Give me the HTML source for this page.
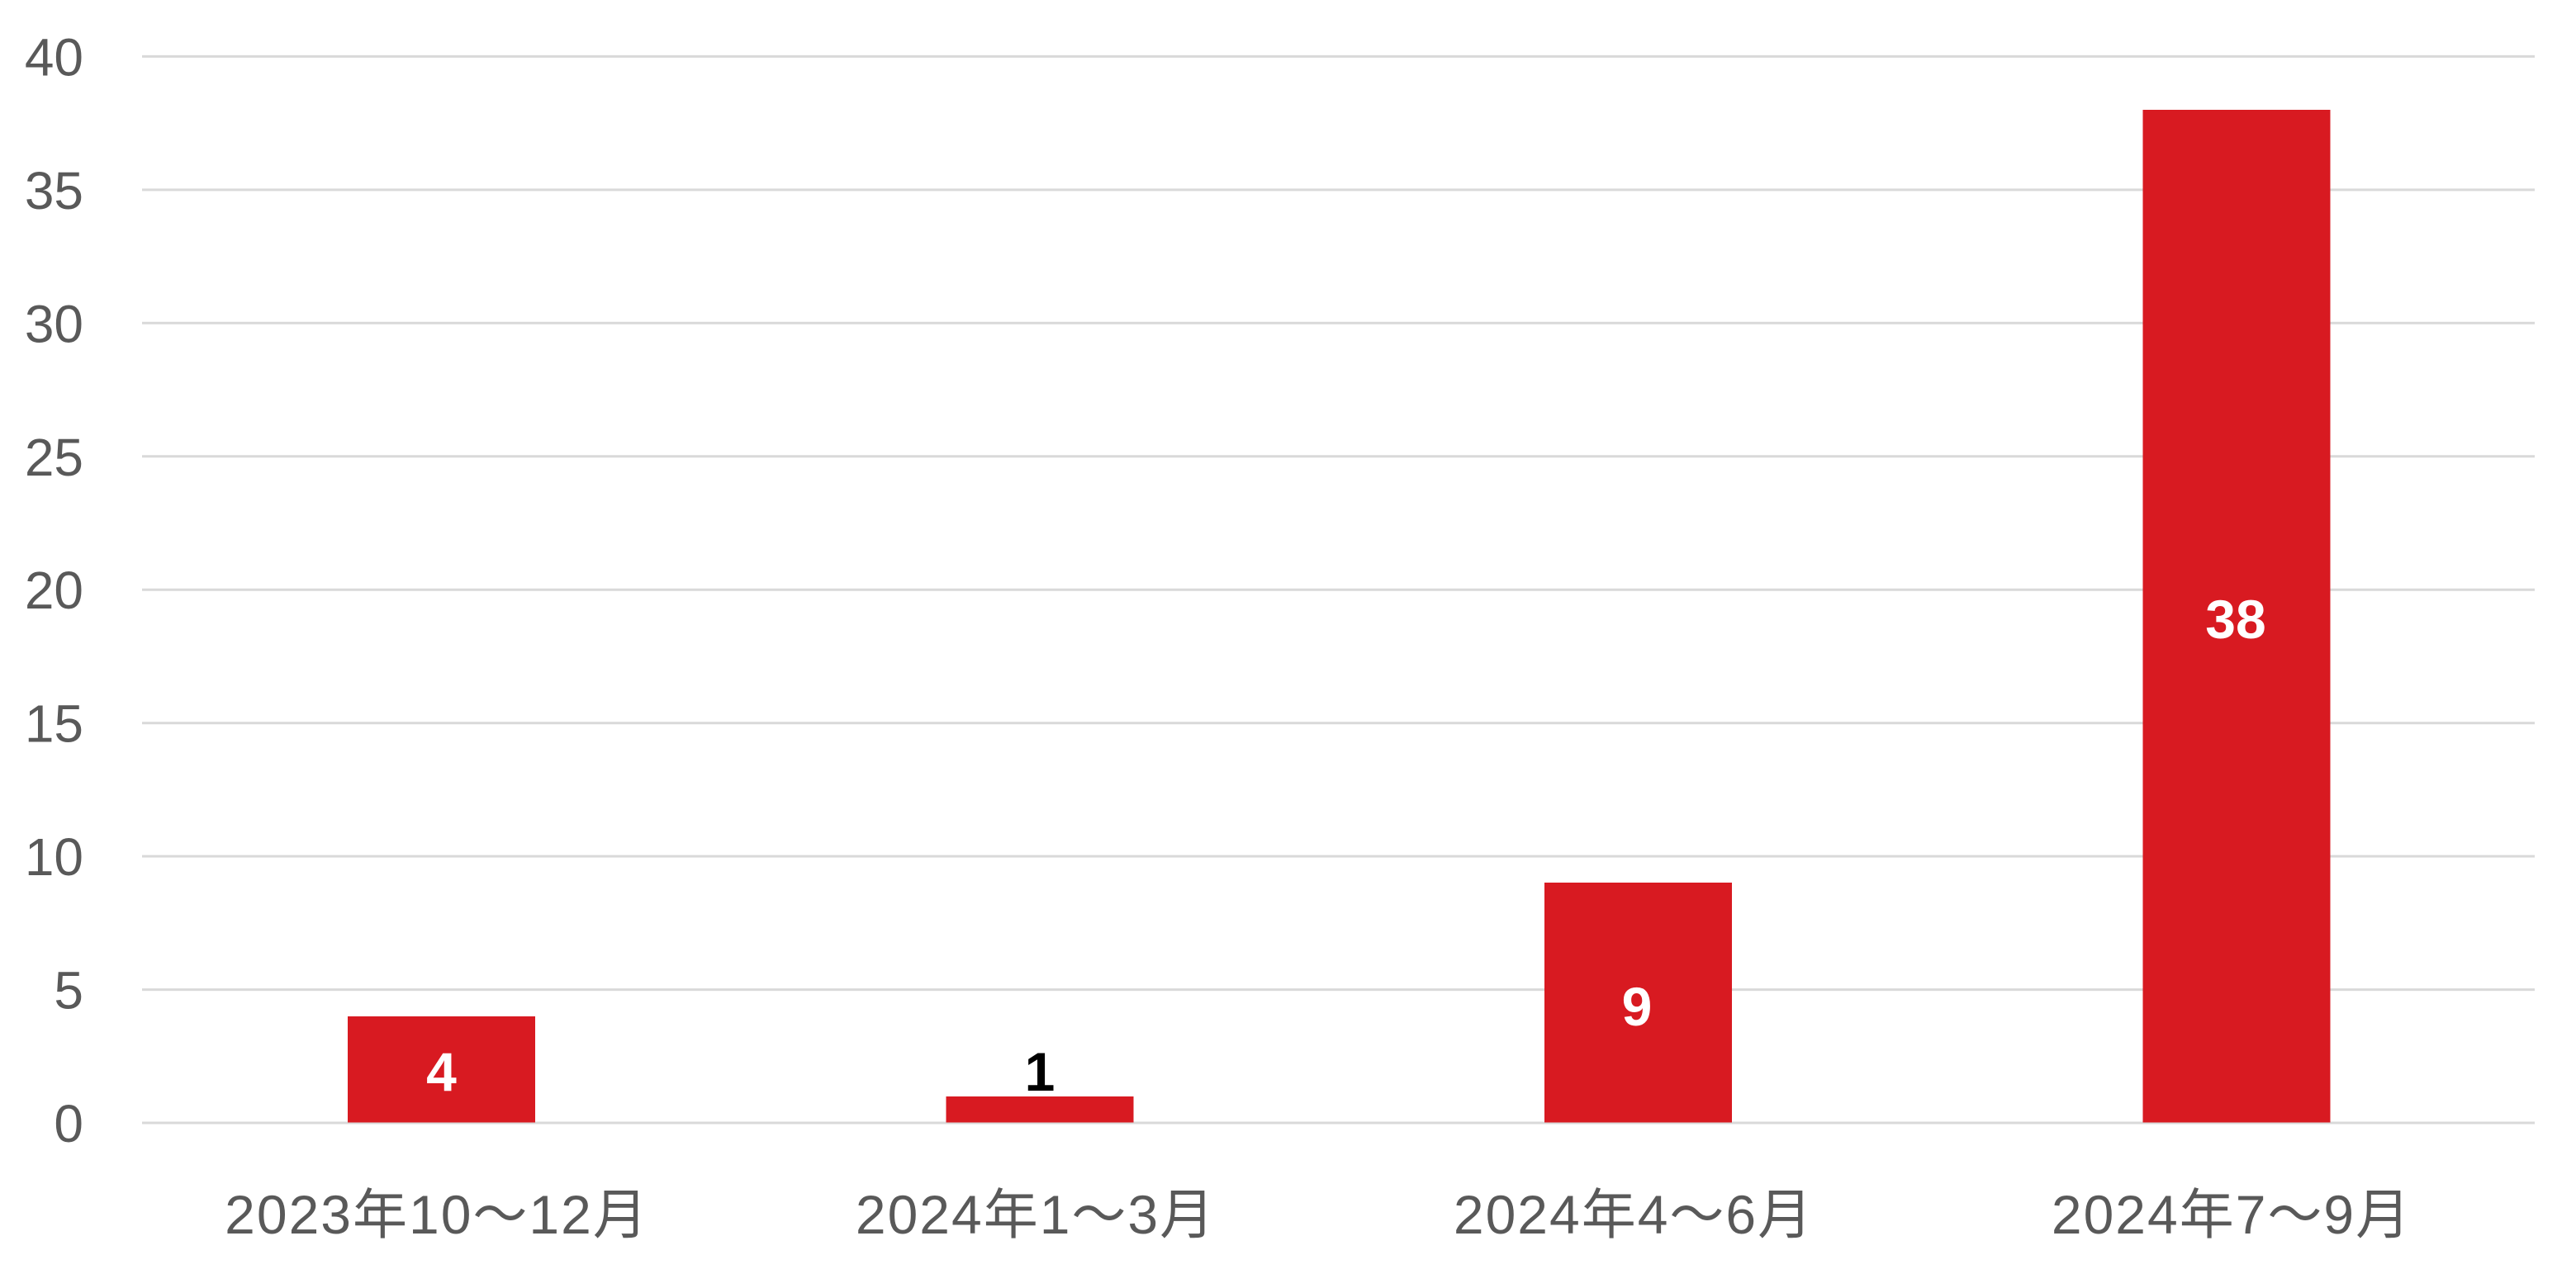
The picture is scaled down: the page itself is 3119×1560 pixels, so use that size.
<!DOCTYPE html>
<html>
<head>
<meta charset="utf-8">
<style>
html,body{margin:0;padding:0;background:#fff;}
svg{display:block;}
</style>
</head>
<body>
<svg width="3119" height="1560" viewBox="0 0 3119 1560" xmlns="http://www.w3.org/2000/svg">
<rect width="3119" height="1560" fill="#ffffff"/>
<g stroke="#d9d9d9" stroke-width="3">
<line x1="172" y1="68.4" x2="3069" y2="68.4"/>
<line x1="172" y1="229.9" x2="3069" y2="229.9"/>
<line x1="172" y1="391.3" x2="3069" y2="391.3"/>
<line x1="172" y1="552.8" x2="3069" y2="552.8"/>
<line x1="172" y1="714.2" x2="3069" y2="714.2"/>
<line x1="172" y1="875.7" x2="3069" y2="875.7"/>
<line x1="172" y1="1037.1" x2="3069" y2="1037.1"/>
<line x1="172" y1="1198.6" x2="3069" y2="1198.6"/>
<line x1="172" y1="1360" x2="3069" y2="1360"/>
</g>
<g font-family="'Liberation Sans', sans-serif" font-size="64" fill="#595959" text-anchor="end">
<text x="101" y="91.4">40</text>
<text x="101" y="252.9">35</text>
<text x="101" y="414.3">30</text>
<text x="101" y="575.8">25</text>
<text x="101" y="737.2">20</text>
<text x="101" y="898.7">15</text>
<text x="101" y="1060.1">10</text>
<text x="101" y="1221.6">5</text>
<text x="101" y="1383">0</text>
</g>
<g fill="#d81a21">
<rect x="421" y="1231" width="227" height="128.5"/>
<rect x="1145.5" y="1328" width="227" height="31.5"/>
<rect x="1870" y="1069" width="227" height="290.5"/>
<rect x="2594.5" y="133" width="227" height="1226.5"/>
</g>
<g font-family="'Liberation Sans', sans-serif" font-size="66" font-weight="bold" text-anchor="middle">
<text x="534.5" y="1321" fill="#ffffff">4</text>
<text x="1259" y="1321" fill="#000000">1</text>
<text x="1982" y="1242" fill="#ffffff">9</text>
<text x="2707" y="773" fill="#ffffff">38</text>
</g>
<g font-family="'Liberation Sans', 'Noto Sans CJK JP', sans-serif" font-size="66" fill="#595959" text-anchor="middle" letter-spacing="2">
<text x="529" y="1494">2023年10〜12月</text>
<text x="1254" y="1494">2024年1〜3月</text>
<text x="1978" y="1494">2024年4〜6月</text>
<text x="2702" y="1494">2024年7〜9月</text>
</g>
</svg>
</body>
</html>
